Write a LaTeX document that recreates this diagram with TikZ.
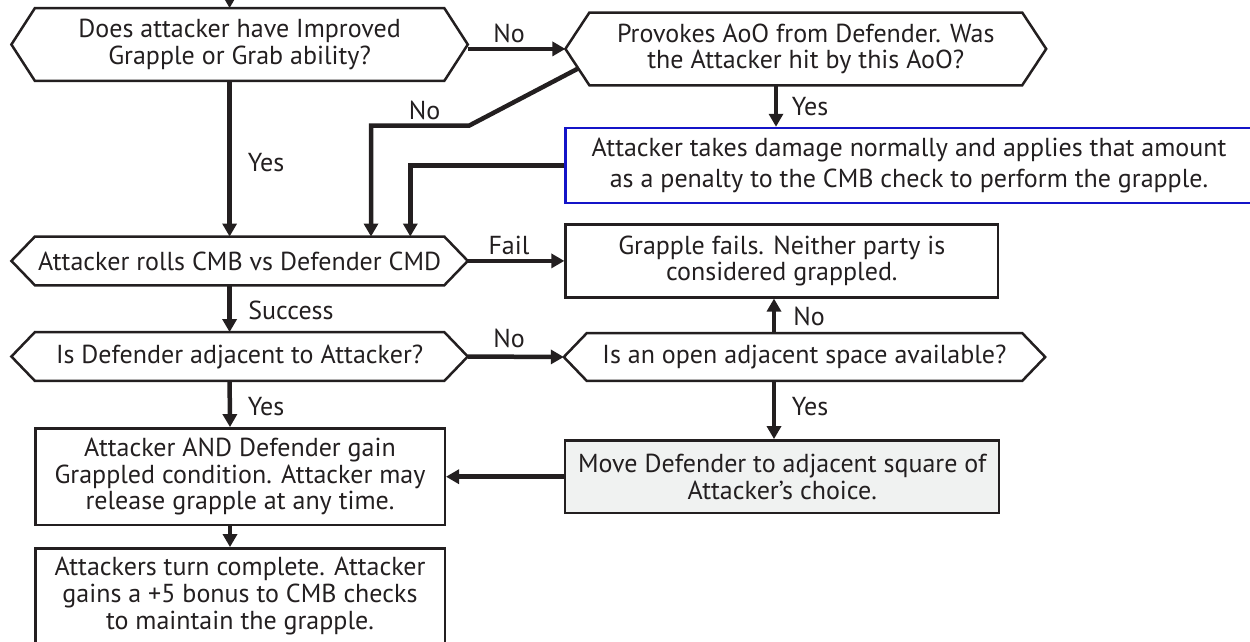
\documentclass[tikz,border=0pt]{standalone}
\usepackage{fontspec}
\setmainfont{PT Sans}
\usetikzlibrary{arrows.meta,calc}
\definecolor{ink}{RGB}{35,31,32}
\definecolor{bluebd}{RGB}{20,20,200}
\definecolor{movefill}{RGB}{240,242,241}
\newcommand{\hexout}[2]{\draw[hexline] (#1.west) -- ([xshift=#2pt]#1.north west) -- ([xshift=-#2pt]#1.north east) -- (#1.east) -- ([xshift=-#2pt]#1.south east) -- ([xshift=#2pt]#1.south west) -- cycle;}
\tikzset{
 base/.style={font=\fontsize{26}{26.8}\selectfont, align=center, inner sep=0pt, text=ink},
 hexnode/.style={base, minimum width=456pt, minimum height=72.4pt},
 boxnode/.style={base, draw=ink, line width=2.5pt},
 hexline/.style={draw=ink, line width=2.5pt, line join=miter},
 conn/.style={draw=ink, line width=4.5pt, line join=miter, -{Triangle[length=13pt,width=14pt]}},
 lbl/.style={font=\fontsize{26}{26.8}\selectfont, text=ink, inner sep=0pt},
}
\begin{document}
\begin{tikzpicture}[x=1pt,y=-1pt]
\useasboundingbox (0,0) rectangle (1250,641);
\clip (0,0) rectangle (1250,641);
% decision nodes
\node[hexnode] (h1) at (239.6,44.5) {Does attacker have Improved\\Grapple or Grab ability?};
\node[hexnode, minimum height=48.3pt] (h2) at (239.6,260.9) {Attacker rolls CMB vs Defender CMD};
\node[hexnode, minimum width=480.4pt] (h3) at (805.8,48.9) {Provokes AoO from Defender. Was\\the Attacker hit by this AoO?};
\node[hexnode, minimum height=48.4pt] (h4) at (239.6,356.5) {Is Defender adjacent to Attacker?};
\node[hexnode, minimum width=481pt, minimum height=47.4pt] (h5) at (804.5,357) {Is an open adjacent space available?};
\hexout{h1}{23.5}
\hexout{h2}{23.5}
\hexout{h3}{24}
\hexout{h4}{23.5}
\hexout{h5}{23}
% boxes
\node[boxnode, draw=bluebd, line width=2.5pt, minimum width=687pt, minimum height=75pt, font=\fontsize{26}{31}\selectfont] (dmg) at (909,165.5) {Attacker takes damage normally and applies that amount\\as a penalty to the CMB check to perform the grapple.};
\node[boxnode, minimum width=432.4pt, minimum height=72.8pt] (fail) at (781.8,260.9) {Grapple fails. Neither party is\\considered grappled.};
\node[boxnode, fill=movefill, minimum width=434pt, minimum height=72.7pt] (move) at (782.2,476.7) {Move Defender to adjacent square of\\Attacker’s choice.};
\node[boxnode, minimum width=409.5pt, minimum height=96.7pt] (grap) at (240,476.7) {Attacker AND Defender gain\\Grappled condition. Attacker may\\release grapple at any time.};
\node[boxnode, minimum width=409.5pt, minimum height=95.7pt] (done) at (240,596.2) {Attackers turn complete. Attacker\\gains a +5 bonus to CMB checks\\to maintain the grapple.};
% connectors
\coordinate (top) at (229.6,-12);
\coordinate (h3ll) at (578.5,68.3);
\coordinate (bend) at (469,125.7);
\draw[conn] (top) -- ([xshift=-10pt]h1.north);
\draw[conn] ([xshift=-10pt]h1.south) -- ([xshift=-10pt]h2.north);
\draw[conn] (h1.east |- h3.west) -- (h3.west);
\draw[conn] (h3ll) -- (bend) -| ([xshift=131.4pt]h2.north);
\draw[conn] (dmg.west) -| ([xshift=170.7pt]h2.north);
\draw[conn] ([xshift=-29.8pt]h3.south) -- ([xshift=-29.8pt]h3.south |- dmg.north);
\draw[conn] (h2.east) -- (fail.west);
\draw[conn] ([xshift=-10pt]h2.south) -- ([xshift=-10pt]h4.north);
\draw[conn] (h4.east) -- (h5.west);
\draw[conn] ([xshift=-30.5pt]h5.north) -- ([xshift=-30.5pt]h5.north |- fail.south);
\draw[conn] ([xshift=-30.5pt]h5.south) -- ([xshift=-30.5pt]h5.south |- move.north);
\draw[conn] (move.west) -- (move.west -| grap.east);
\draw[conn] ([xshift=-10pt]h4.south) -- ([xshift=-10pt]grap.north);
\draw[conn] ([xshift=-10pt]grap.south) -- ([xshift=-10pt]done.north);
% labels
\node[lbl] (l1) at (266,163) {Yes};
\node[lbl] (l2) at (509,33) {No};
\node[lbl] (l3) at (424.5,110) {No};
\node[lbl] (l4) at (810,107) {Yes};
\node[lbl] (l5) at (509,245) {Fail};
\node[lbl] (l6) at (291,310) {Success};
\node[lbl] (l7) at (509,338) {No};
\node[lbl] (l8) at (809,316.7) {No};
\node[lbl] (l9) at (810,406.7) {Yes};
\node[lbl] (l10) at (266,406.7) {Yes};
\end{tikzpicture}
\end{document}
